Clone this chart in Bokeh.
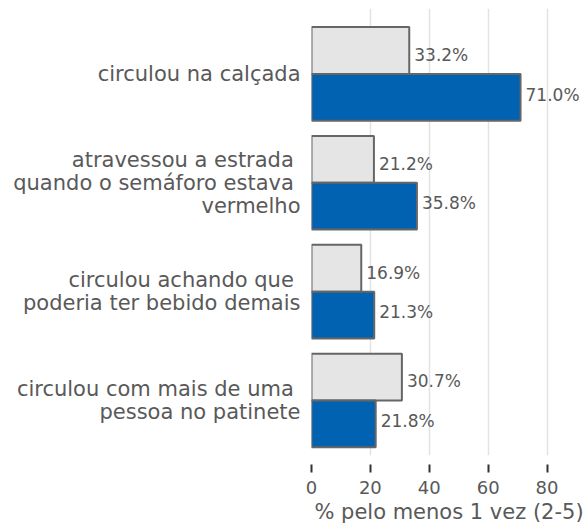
from bokeh.plotting import figure
from bokeh.models import ColumnDataSource, Range1d, FixedTicker
from bokeh.core.properties import value
from bokeh.embed import file_html
from bokeh.resources import INLINE

# ---- data ----
category_lines = [
    ["circulou na calçada"],
    ["atravessou a estrada\u00a0", "quando o semáforo estava\u00a0", "vermelho"],
    ["circulou achando que\u00a0", "poderia ter bebido demais"],
    ["circulou com mais de uma\u00a0", "pessoa no patinete"],
]
serie_cinza = [33.2, 21.2, 16.9, 30.7]
serie_azul = [71.0, 35.8, 21.3, 21.8]
x_ticks = [0, 20, 40, 60, 80]
x_title = "% pelo menos 1 vez (2-5)"

FONT = "DejaVu Sans"
TXT = "#595959"
BAR_H = 0.43
OFF = 0.215
LINE_PITCH = 0.209

idx = list(range(len(category_lines)))

p = figure(frame_width=275, frame_height=447,
           x_range=Range1d(0, 93.4), y_range=Range1d(3.505, -0.601),
           output_backend="svg", toolbar_location=None,
           min_border_left=311, min_border_right=0, min_border_top=8, min_border_bottom=0)
p.outline_line_color = None
p.background_fill_color = "white"

src_c = ColumnDataSource(dict(y=[i - OFF for i in idx], v=serie_cinza,
                              lab=[f"{v:.1f}%" for v in serie_cinza]))
src_a = ColumnDataSource(dict(y=[i + OFF for i in idx], v=serie_azul,
                              lab=[f"{v:.1f}%" for v in serie_azul]))

p.hbar(y="y", left=0, right="v", height=BAR_H, source=src_c,
       fill_color="#e5e5e5", line_color="#666666", line_width=2)
p.hbar(y="y", left=0, right="v", height=BAR_H, source=src_a,
       fill_color="#0062b0", line_color="#666666", line_width=2)

for src, dy in ((src_c, 0.04), (src_a, -0.025)):
    s2 = ColumnDataSource(dict(y=[y + dy for y in src.data["y"]], v=src.data["v"], lab=src.data["lab"]))
    p.text(x="v", y="y", text="lab", source=s2, x_offset=5,
           text_baseline="middle", text_align="left",
           text_font=value(FONT), text_font_size="17px", text_color=TXT)

# y axis: one tick per label line
yticks = []
overrides = {}
for i, lines in enumerate(category_lines):
    n = len(lines)
    for k, line in enumerate(lines):
        t = round(i + (k - (n - 1) / 2) * LINE_PITCH, 4)
        yticks.append(t)
        overrides[t] = line
p.yaxis.ticker = FixedTicker(ticks=yticks)
p.yaxis.major_label_overrides = overrides
p.yaxis.axis_line_color = None
p.yaxis.major_tick_line_color = None
p.yaxis.minor_tick_line_color = None
p.yaxis.major_tick_in = 0
p.yaxis.major_tick_out = 0
p.yaxis.major_label_standoff = 11
p.yaxis.major_label_text_font = FONT
p.yaxis.major_label_text_font_size = "21px"
p.yaxis.major_label_text_color = TXT
p.ygrid.grid_line_color = None

# x axis
p.xaxis.ticker = FixedTicker(ticks=x_ticks)
p.xaxis.axis_line_color = None
p.xaxis.minor_tick_line_color = None
p.xaxis.major_tick_line_color = "#333333"
p.xaxis.major_tick_line_width = 2
p.xaxis.major_tick_in = -9
p.xaxis.major_tick_out = 17
p.xaxis.major_label_standoff = 8
p.xaxis.major_label_text_font = FONT
p.xaxis.major_label_text_font_size = "18px"
p.xaxis.major_label_text_color = TXT
p.xaxis.axis_label = x_title
p.xaxis.axis_label_text_font = FONT
p.xaxis.axis_label_text_font_size = "21px"
p.xaxis.axis_label_text_font_style = "normal"
p.xaxis.axis_label_text_color = TXT
p.xaxis.axis_label_standoff = 3
p.xgrid.ticker = FixedTicker(ticks=x_ticks)
p.xgrid.grid_line_color = "#e3e3e3"
p.xgrid.grid_line_width = 1.5

open("out.html", "w").write(file_html(p, INLINE))
